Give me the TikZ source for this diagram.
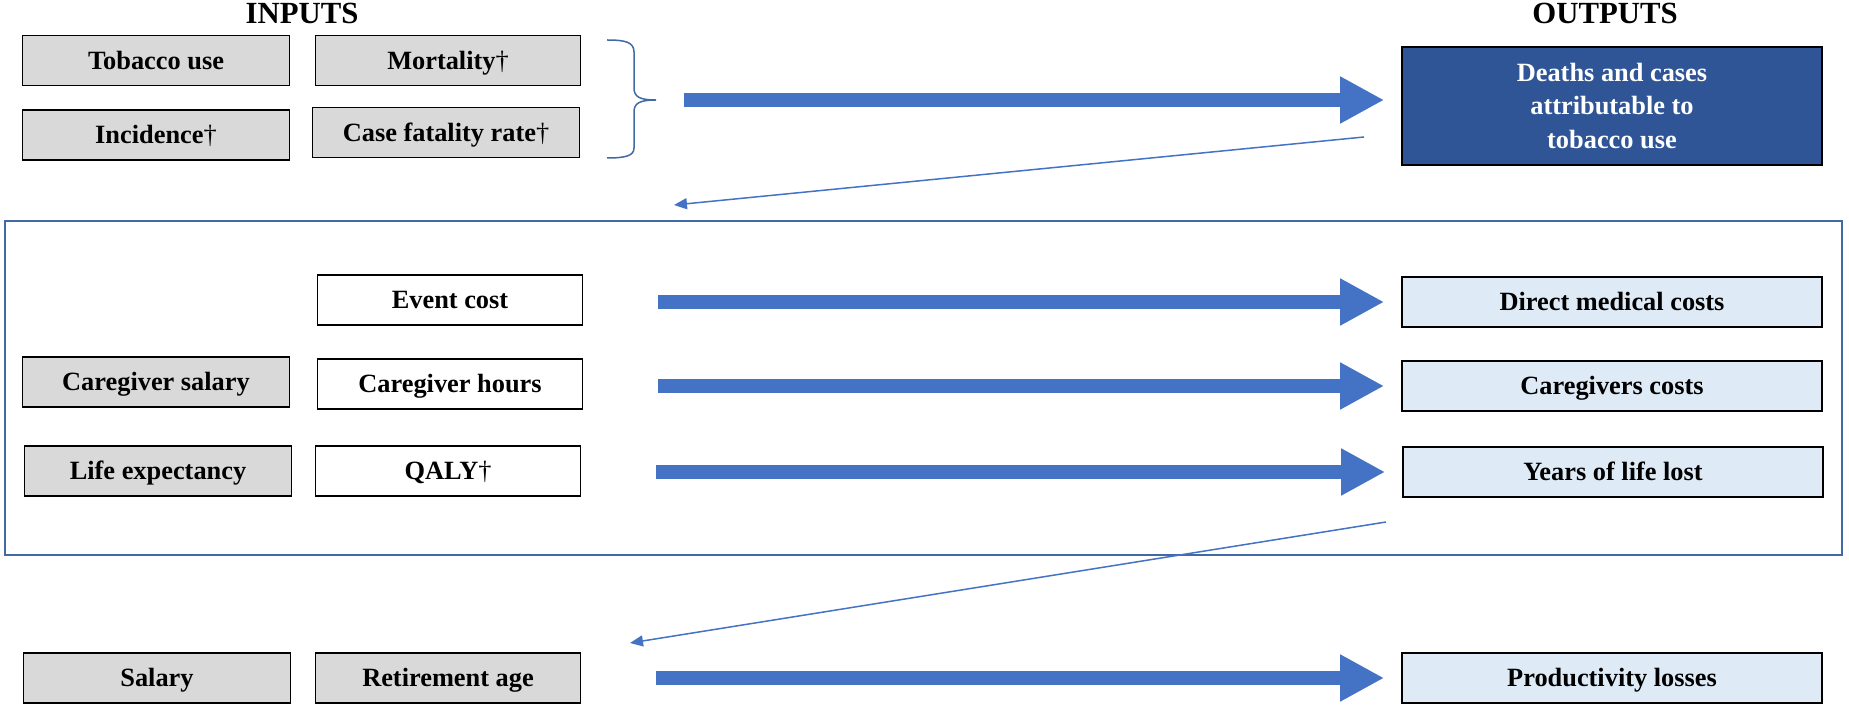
\documentclass[tikz,border=0pt]{standalone}
\usepackage{fontspec}
\setmainfont{Liberation Serif}
\usepackage{xcolor}
\usepackage{tikz}
\usetikzlibrary{arrows.meta,positioning,calc}
\definecolor{inGray}{RGB}{217,217,217}
\definecolor{outBlue}{RGB}{222,235,247}
\definecolor{darkBlue}{RGB}{47,85,151}
\definecolor{arrowBlue}{RGB}{68,114,196}
\definecolor{frameBlue}{RGB}{65,105,165}
\newcommand{\dg}{{\mdseries †}}

\begin{document}
\begin{tikzpicture}[x=0.2mm,y=-0.2mm,
  every node/.style={font=\fontsize{15}{19}\selectfont\bfseries},
  cell/.style={draw,line width=0.35mm,minimum height=10mm,text height=3.5mm,text depth=0pt},
  graybox/.style={cell,fill=inGray,minimum width=53.4mm},
  whitebox/.style={cell,fill=white,minimum width=53mm},
  outbox/.style={cell,fill=outBlue,minimum width=84mm},
  bigarrow/.style={arrowBlue,line width=2.8mm,-{Triangle[length=8.8mm,width=8.8mm]}},
  thinarrow/.style={arrowBlue,line width=0.3mm,-{Triangle[length=2.6mm,width=2.2mm]}}]
  \useasboundingbox (0,0) rectangle (1849,710);

  % headers
  \node[font=\fontsize{17.5}{21}\selectfont\bfseries] (inputs) at (302,13) {INPUTS};
  \node[font=\fontsize{17.5}{21}\selectfont\bfseries] (outputs) at (1605,13) {OUTPUTS};

  % first step
  \node[graybox] (tobacco) at (156,60.5) {Tobacco use};
  \node[whitebox,fill=inGray] (mortality) at (448,60.5) {Mortality\dg};
  \node[graybox] (incidence) at (156,135) {Incidence\dg};
  \node[graybox] (fatality) at (446,132.5) {Case fatality rate\dg};
  \draw[frameBlue,line width=0.3mm] (607,40) .. controls (625,40) and (634,42) .. (634,52)
    -- (634,88) .. controls (634,97) and (640,100) .. (656,100)
    .. controls (640,100) and (634,103) .. (634,112)
    -- (634,148) .. controls (634,156) and (625,158) .. (607,158);
  \coordinate (brtip) at (656,100);
  \node[cell,fill=darkBlue,text=white,align=center,minimum width=84mm,minimum height=23.6mm,
    text height=,text depth=] (deaths) at (1612,106) {Deaths and cases\\attributable to\\tobacco use};
  \draw[bigarrow,shorten <=5.6mm,shorten >=3.4mm] (brtip) -- (brtip -| deaths.west);

  \coordinate (back1) at (1364,137);
  \coordinate (back1end) at (674,205);
  \draw[thinarrow] (back1) -- (back1end);

  % costs
  \draw[frameBlue,line width=0.3mm] (5,221) rectangle (1842,555);
  \node[whitebox] (eventcost) at (450,300) {Event cost};
  \node[outbox] (directcost) at (1612,302) {Direct medical costs};
  \node[graybox] (cgsalary) at (156,382) {Caregiver salary};
  \node[whitebox] (cghours) at (450,384) {Caregiver hours};
  \node[outbox] (cgcosts) at (1612,386) {Caregivers costs};
  \node[graybox] (lifeexp) at (158,471) {Life expectancy};
  \node[whitebox] (qaly) at (448,471) {QALY\dg};
  \node[outbox] (yll) at (1613,472) {Years of life lost};

  \coordinate (back2) at (1386,522);
  \coordinate (back2end) at (630,643);
  \draw[thinarrow] (back2) -- (back2end);

  % productivity
  \node[graybox] (salary) at (157,678) {Salary};
  \node[whitebox,fill=inGray] (retire) at (448,678) {Retirement age};
  \node[outbox] (prodloss) at (1612,678) {Productivity losses};

  \foreach \a/\b in {eventcost/directcost,cghours/cgcosts,qaly/yll,retire/prodloss}
    \draw[bigarrow,shorten <=15mm,shorten >=3.4mm] (\b.west -| \a.east) -- (\b.west);
\end{tikzpicture}
\end{document}
